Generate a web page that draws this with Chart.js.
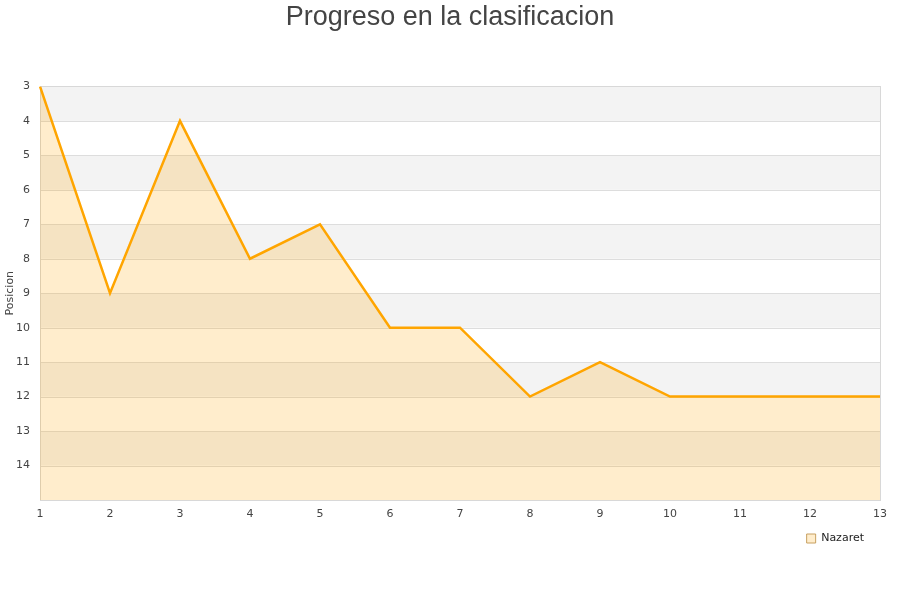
<!DOCTYPE html>
<html>
<head>
<meta charset="utf-8">
<script src="https://cdn.jsdelivr.net/npm/chart.js@4.4.0/dist/chart.umd.min.js"></script>
<style>
  body { margin: 0; background: #fff; }
  #wrap { width: 900px; height: 600px; }
</style>
</head>
<body>
<div id="wrap"><canvas id="posChart" width="900" height="600"></canvas></div>
<script>
// jornadas y posicion del equipo
var jornadas = ["1", "2", "3", "4", "5", "6", "7", "8", "9", "10", "11", "12", "13"]
var posiciones = [3, 9, 4, 8, 7, 10, 10, 12, 11, 12, 12, 12, 12]
var equipo = "Nazaret"
var posMin = 3
var posMax = 15

// franjas grises alternas + borde del area
var bandas = {
    id: "bandas",
    beforeDatasetsDraw: function(chart) {
        var ctx = chart.ctx
        var a = chart.chartArea
        var y = chart.scales.y
        ctx.save()
        for (var v = posMin; v < posMax; v++) {
            if (v % 2 == 1) {
                var y1 = y.getPixelForValue(v)
                var y2 = y.getPixelForValue(v + 1)
                ctx.fillStyle = "#f3f3f3"
                ctx.fillRect(a.left, y1, a.right - a.left, y2 - y1)
            }
        }
        for (var v = posMin; v <= posMax; v++) {
            var py = Math.round(y.getPixelForValue(v)) + 0.5
            ctx.strokeStyle = "#dddddd"
            ctx.lineWidth = 1
            ctx.beginPath()
            ctx.moveTo(a.left, py)
            ctx.lineTo(a.right, py)
            ctx.stroke()
        }
        ctx.strokeStyle = "#d8d8d8"
        ctx.strokeRect(Math.round(a.left) + 0.5, Math.round(a.top) + 0.5, Math.round(a.right - a.left), Math.round(a.bottom - a.top))
        ctx.restore()
    }
}

var ctx = document.getElementById("posChart").getContext("2d")
var posChart = new Chart(ctx, {
    type: "line",
    data: {
        labels: jornadas,
        datasets: [{
            label: equipo,
            data: posiciones,
            borderColor: "#ffa500",
            backgroundColor: "rgba(255, 165, 0, 0.2)",
            borderWidth: 2.5,
            fill: "start",
            tension: 0,
            pointRadius: 0,
            pointHoverRadius: 0
        }]
    },
    options: {
        responsive: false,
        animation: false,
        layout: {
            padding: { left: 0, right: 0, top: 0, bottom: 46 }
        },
        scales: {
            x: {
                offset: false,
                grid: { display: false, drawTicks: false },
                border: { display: false },
                ticks: {
                    color: "#444",
                    font: { family: "DejaVu Sans", size: 11 },
                    maxRotation: 0,
                    padding: 8
                },
                afterFit: function(scale) { scale.height = 17 }
            },
            y: {
                reverse: true,
                min: posMin,
                max: posMax,
                grid: { display: false, drawTicks: false },
                border: { display: false },
                ticks: {
                    stepSize: 1,
                    color: "#444",
                    font: { family: "DejaVu Sans", size: 11 },
                    padding: 10,
                    callback: function(val) { return val == posMax ? "" : val }
                },
                title: {
                    display: true,
                    text: "Posicion",
                    color: "#444",
                    font: { family: "DejaVu Sans", size: 11 },
                    padding: { top: 4, bottom: 0 }
                },
                afterFit: function(scale) { scale.width = 40 }
            },
            // margen derecho vacio
            yDer: {
                position: "right",
                grid: { display: false },
                border: { display: false },
                ticks: { display: false },
                afterFit: function(scale) { scale.width = 20 }
            }
        },
        plugins: {
            title: {
                display: true,
                text: "Progreso en la clasificacion",
                color: "#444",
                font: { family: "Liberation Sans", size: 27, weight: "normal" },
                padding: { top: 1, bottom: 53 }
            },
            legend: {
                position: "bottom",
                align: "end",
                fullSize: false,
                labels: {
                    color: "#222",
                    font: { family: "DejaVu Sans", size: 11 },
                    boxWidth: 9,
                    boxHeight: 9,
                    padding: 16,
                    generateLabels: function(chart) {
                        var items = Chart.defaults.plugins.legend.labels.generateLabels(chart)
                        items.forEach(function(it) {
                            it.lineWidth = 1
                            it.strokeStyle = "#c8a060"
                            it.fillStyle = "#ffedcc"
                        })
                        return items
                    }
                }
            },
            tooltip: { enabled: false }
        }
    },
    plugins: [bandas]
});
</script>
</body>
</html>
